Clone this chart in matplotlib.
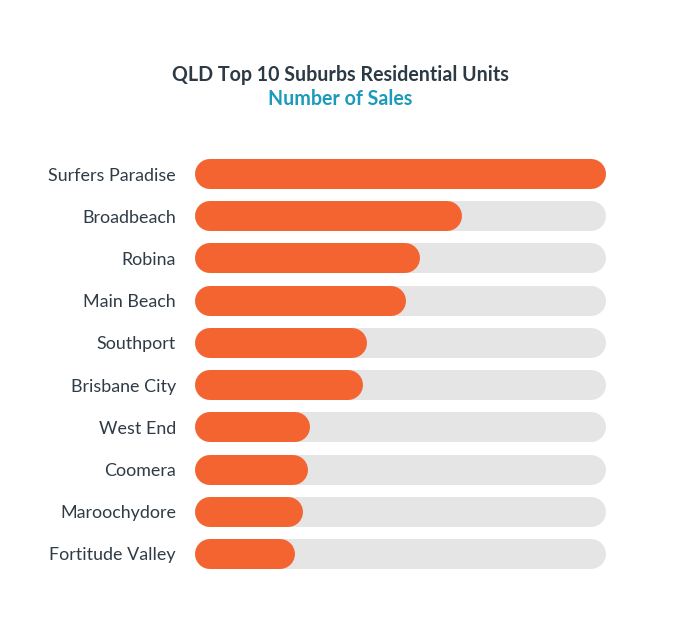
import matplotlib
matplotlib.use('Agg')
import matplotlib.pyplot as plt

suburbs = ["Surfers Paradise", "Broadbeach", "Robina", "Main Beach", "Southport",
           "Brisbane City", "West End", "Coomera", "Maroochydore", "Fortitude Valley"]
sales = [100, 62.2, 51.2, 47.5, 37.3, 36.2, 22.3, 21.8, 20.5, 18.4]
max_sales = 100

W, H, DPI = 678, 643, 100
fig = plt.figure(figsize=(W / DPI, H / DPI), dpi=DPI)
plt.rcParams['font.family'] = ['Lato', 'DejaVu Sans']

# axes in pixel-ish placement: line centres from 210px to 591px (round caps add 15px)
row_gap = 42.2
top, bottom = 174 - row_gap / 2, 554 + row_gap / 2
ax = fig.add_axes([210 / W, 1 - bottom / H, (591 - 210) / W, (bottom - top) / H])

lw = 30 * 72 / DPI
ys = list(range(len(suburbs)))
for y, v in zip(ys, sales):
    ax.plot([0, max_sales], [y, y], color='#e5e5e5', lw=lw, solid_capstyle='round', clip_on=False)
    ax.plot([0, v], [y, y], color='#f36430', lw=lw, solid_capstyle='round', clip_on=False)

ax.set_xlim(0, max_sales)
ax.set_ylim(len(suburbs) - 0.5, -0.5)
ax.set_yticks(ys)
ax.set_yticklabels(suburbs, fontsize=12.9, color='#2f3b46')
ax.tick_params(axis='y', length=0, pad=(210 - 176) * 72 / DPI)
ax.set_xticks([])
for s in ax.spines.values():
    s.set_visible(False)

fig.text(340 / W, 1 - 75 / H, "QLD Top 10 Suburbs Residential Units", ha='center', va='center',
         fontsize=14.1, fontweight='bold', color='#2c3a45')
fig.text(340 / W, 1 - 99 / H, "Number of Sales", ha='center', va='center',
         fontsize=14.1, fontweight='bold', color='#1b9ab9')

fig.savefig('out.png', dpi=DPI, facecolor='white')
